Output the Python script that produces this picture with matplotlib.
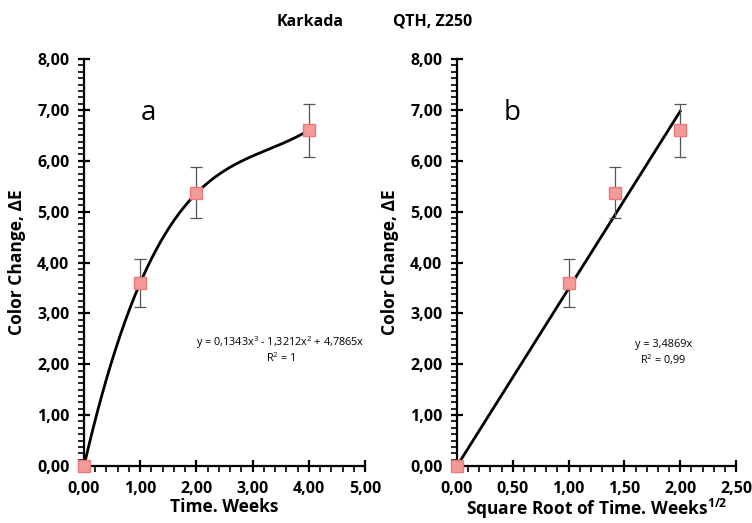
import numpy as np
import matplotlib.pyplot as plt
from matplotlib.ticker import MultipleLocator, FuncFormatter

# data
weeks = [0, 1, 2, 4]
sqrt_weeks = [0, 1, 1.414, 2]
delta_e = [0, 3.6, 5.37, 6.6]
err = [0, 0.47, 0.5, 0.52]
poly_coef = [0.1343, -1.3212, 4.7865, 0]   # cubic trend, panel a
lin_slope = 3.4869                          # linear trend through origin, panel b

plt.rcParams['font.family'] = ['Open Sans', 'DejaVu Sans']
plt.rcParams['mathtext.fontset'] = 'custom'
plt.rcParams['mathtext.rm'] = 'Open Sans'
plt.rcParams['mathtext.bf'] = 'Open Sans:bold'

fig = plt.figure(figsize=(7.52, 5.23), dpi=100)
axa = fig.add_axes([0.1117, 0.109, 0.3737, 0.778])
axb = fig.add_axes([0.6077, 0.109, 0.371, 0.778])

comma = FuncFormatter(lambda v, p: f"{v:.2f}".replace(".", ","))

def style(ax, xmax, xmaj, xmin):
    ax.set_xlim(0, xmax)
    ax.set_ylim(0, 8)
    for s in ["top", "right"]:
        ax.spines[s].set_visible(False)
    for s in ["left", "bottom"]:
        ax.spines[s].set_linewidth(1.6)
    ax.xaxis.set_major_locator(MultipleLocator(xmaj))
    ax.xaxis.set_minor_locator(MultipleLocator(xmin))
    ax.yaxis.set_major_locator(MultipleLocator(1))
    ax.yaxis.set_minor_locator(MultipleLocator(0.125))
    ax.xaxis.set_major_formatter(comma)
    ax.yaxis.set_major_formatter(comma)
    ax.tick_params(which="major", direction="inout", length=9, width=1.6,
                   labelsize=11.5, pad=6)
    ax.tick_params(which="minor", direction="out", length=4, width=1.2)
    for lab in ax.get_xticklabels() + ax.get_yticklabels():
        lab.set_fontweight("bold")
    ax.set_ylabel("Color Change, ΔE", fontsize=12.5, fontweight="bold", labelpad=8)

# panel a
style(axa, 5, 1, 0.2)
xs = np.linspace(0, 4, 200)
axa.plot(xs, np.polyval(poly_coef, xs), color="black", lw=2, zorder=2)
axa.errorbar(weeks, delta_e, yerr=err, fmt="s", ms=9, mfc="#f39a9a", mec="#ea7a7a",
             ecolor="#555555", elinewidth=0.9, capsize=4, capthick=0.9, clip_on=False, zorder=3)
axa.set_xlabel("Time. Weeks", fontsize=12.5, fontweight="bold", labelpad=1)
axa.text(1.14, 6.94, "a", fontsize=20, ha="center", va="center")
axa.text(3.49, 2.42, "y = 0,1343x$^3$ - 1,3212x$^2$ + 4,7865x", fontsize=7.8,
         ha="center", va="center")
axa.text(3.49, 2.13, "R$^2$ = 1", fontsize=7.8, ha="center", va="center")

# panel b
style(axb, 2.5, 0.5, 0.1)
xl = np.array([0, 2])
axb.plot(xl, lin_slope * xl, color="black", lw=2, zorder=2)
axb.errorbar(sqrt_weeks, delta_e, yerr=err, fmt="s", ms=9, mfc="#f39a9a", mec="#ea7a7a",
             ecolor="#555555", elinewidth=0.9, capsize=4, capthick=0.9, clip_on=False, zorder=3)
axb.set_xlabel("Square Root of Time. Weeks$^{\\mathbf{1/2}}$", fontsize=12.5,
               fontweight="bold", labelpad=0)
axb.text(0.49, 6.94, "b", fontsize=20, ha="center", va="center")
axb.text(1.85, 2.38, "y = 3,4869x", fontsize=7.8, ha="center", va="center")
axb.text(1.85, 2.1, "R$^2$ = 0,99", fontsize=7.8, ha="center", va="center")

fig.text(0.412, 0.958, "Karkada", fontsize=11.5, fontweight="bold", ha="center", va="center")
fig.text(0.575, 0.958, "QTH, Z250", fontsize=11.5, fontweight="bold", ha="center", va="center")

fig.savefig("out.png", dpi=100)
